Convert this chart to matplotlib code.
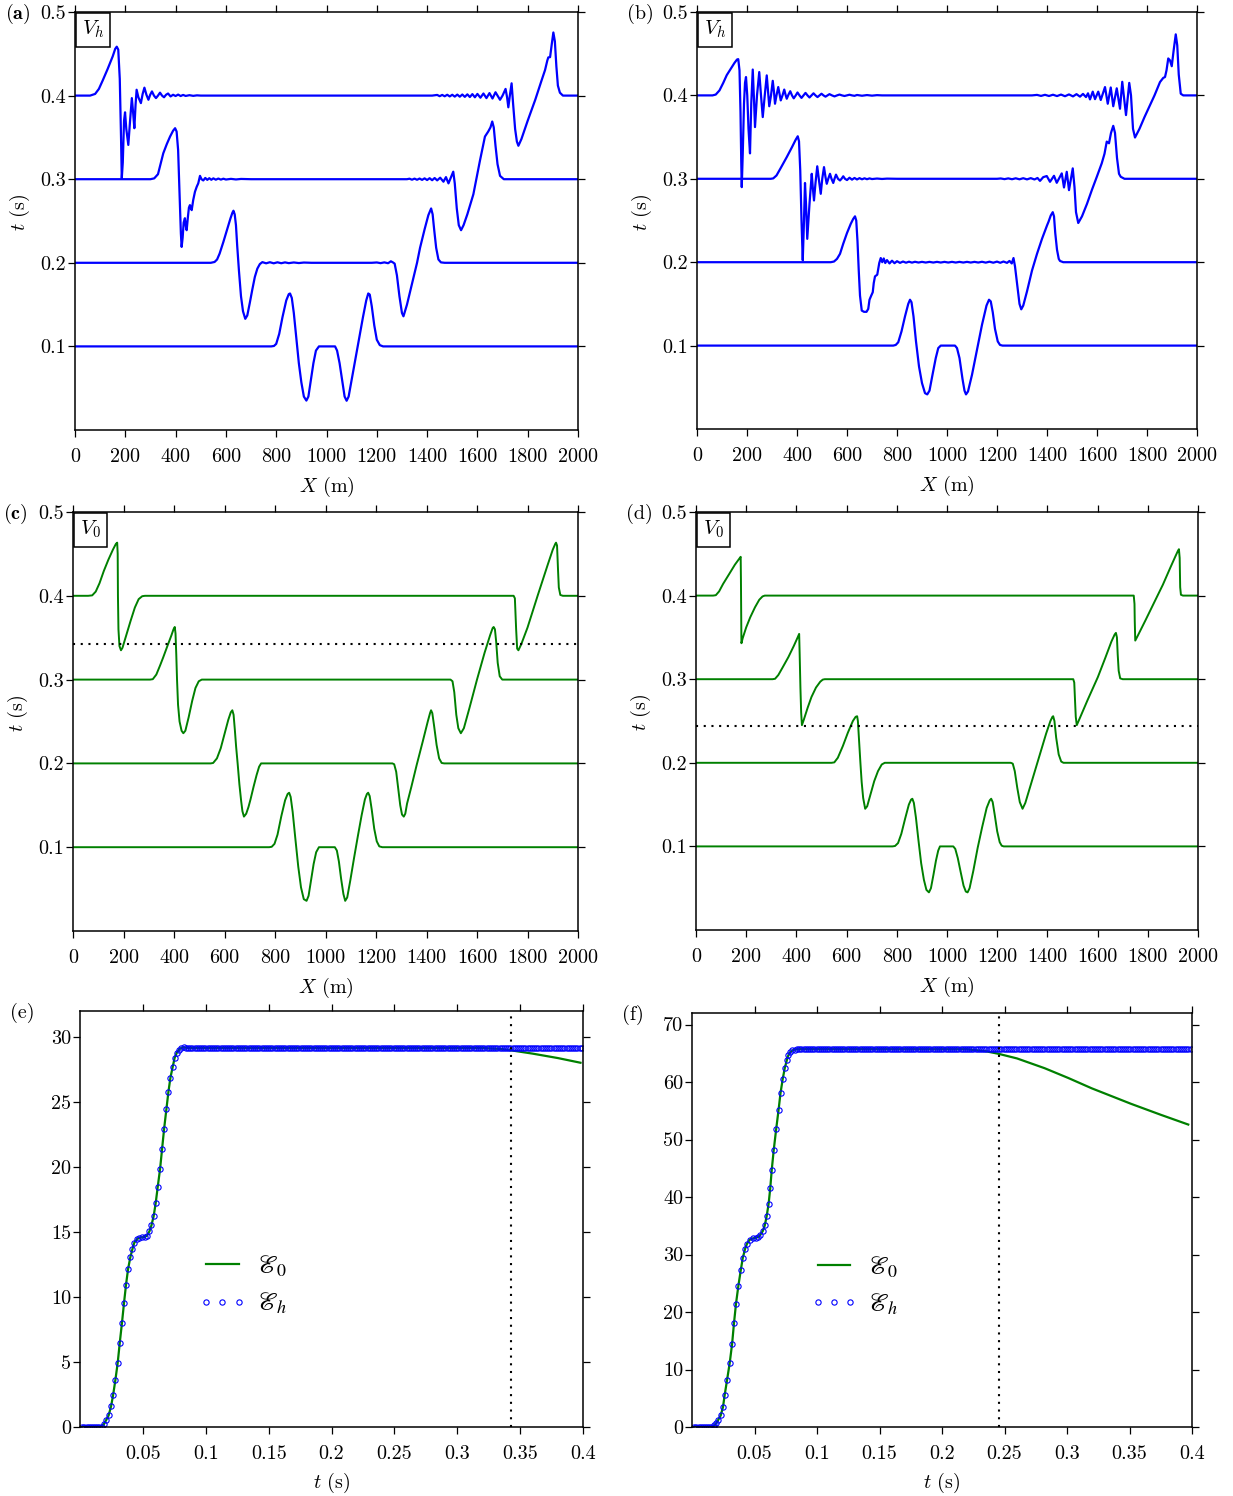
import numpy as np
import matplotlib
matplotlib.use('Agg')
import matplotlib.pyplot as plt
from matplotlib.font_manager import FontProperties

plt.rcParams['font.family'] = 'cmr10'
plt.rcParams['mathtext.fontset'] = 'cm'
plt.rcParams['axes.formatter.use_mathtext'] = True
plt.rcParams['font.size'] = 14.5

W, H = 1233, 1496
BLUE = '#0000ff'
GREEN = '#008000'

# ---- wave snapshots, (X [m], shifted t [s]) ----
# panel (a), V_h
a_04 = [(0, 0.4), (60, 0.4), (80, 0.402), (95, 0.408), (110, 0.418), (130, 0.432), (150, 0.447),
        (160, 0.456), (166, 0.4585), (172, 0.455), (178, 0.42), (183, 0.35), (186, 0.301), (190, 0.32),
        (195, 0.37), (199, 0.38), (204, 0.36), (212, 0.341), (219, 0.37), (226, 0.397), (231, 0.38),
        (236, 0.361), (241, 0.39), (245, 0.407), (252, 0.398), (262, 0.391), (269, 0.402), (276, 0.4095),
        (284, 0.401), (292, 0.395), (299, 0.401), (306, 0.405), (314, 0.4), (322, 0.397), (330, 0.4),
        (338, 0.4035), (346, 0.4), (354, 0.398), (362, 0.401), (370, 0.4025), (380, 0.399), (390, 0.401),
        (400, 0.3995), (410, 0.4012), (420, 0.3995), (430, 0.4008), (440, 0.3996), (455, 0.4005),
        (470, 0.3997), (485, 0.4003), (500, 0.4), (1420, 0.4), (1440, 0.4008), (1450, 0.3993),
        (1460, 0.4008), (1470, 0.3992), (1480, 0.401), (1490, 0.399), (1500, 0.401), (1510, 0.3988),
        (1520, 0.4012), (1530, 0.3987), (1540, 0.4013), (1550, 0.3985), (1560, 0.4015), (1570, 0.3983),
        (1580, 0.4018), (1590, 0.398), (1600, 0.402), (1612, 0.3975), (1624, 0.4025), (1636, 0.397),
        (1648, 0.403), (1660, 0.3965), (1672, 0.404), (1690, 0.395), (1700, 0.4), (1712, 0.408),
        (1718, 0.398), (1723, 0.386), (1729, 0.4), (1736, 0.4147), (1742, 0.39), (1750, 0.36),
        (1757, 0.345), (1763, 0.34), (1775, 0.348), (1800, 0.37), (1830, 0.395), (1855, 0.418),
        (1869, 0.4306), (1878, 0.442), (1882, 0.4457), (1889, 0.446), (1895, 0.46), (1902, 0.4755),
        (1908, 0.465), (1914, 0.435), (1920, 0.412), (1928, 0.4035), (1940, 0.4), (2000, 0.4)]
a_03 = [(0, 0.3), (300, 0.3), (315, 0.301), (330, 0.306), (351, 0.331), (365, 0.342), (378, 0.351),
        (390, 0.358), (398, 0.361), (404, 0.357), (410, 0.335), (416, 0.28), (421, 0.235), (424, 0.219),
        (428, 0.23), (432, 0.248), (437, 0.2533), (441, 0.243), (444, 0.239), (449, 0.255), (453, 0.266),
        (457, 0.269), (461, 0.265), (464, 0.263), (470, 0.275), (477, 0.285), (484, 0.291), (490, 0.295),
        (497, 0.304), (503, 0.3), (510, 0.2985), (518, 0.3015), (526, 0.2992), (534, 0.3012),
        (542, 0.2993), (550, 0.301), (560, 0.2994), (570, 0.3008), (580, 0.2995), (590, 0.3006),
        (600, 0.2996), (620, 0.3004), (640, 0.2997), (660, 0.3003), (700, 0.3), (1320, 0.3),
        (1330, 0.3006), (1340, 0.2994), (1350, 0.3007), (1360, 0.2993), (1370, 0.3008), (1380, 0.2992),
        (1390, 0.301), (1400, 0.299), (1410, 0.3012), (1420, 0.2988), (1430, 0.3014), (1440, 0.2986),
        (1452, 0.3018), (1465, 0.297), (1475, 0.3025), (1485, 0.295), (1504, 0.309), (1510, 0.295),
        (1518, 0.265), (1526, 0.245), (1535, 0.239), (1545, 0.245), (1560, 0.258), (1584, 0.282),
        (1610, 0.322), (1630, 0.351), (1643, 0.357), (1652, 0.362), (1659, 0.369), (1665, 0.362),
        (1672, 0.34), (1680, 0.318), (1690, 0.304), (1705, 0.3), (2000, 0.3)]
a_02 = [(0, 0.2), (540, 0.2), (555, 0.201), (565, 0.204), (575, 0.211), (590, 0.225), (605, 0.24),
        (618, 0.253), (626, 0.26), (630, 0.2623), (635, 0.258), (640, 0.245), (645, 0.22), (652, 0.19),
        (660, 0.16), (668, 0.142), (677, 0.133), (685, 0.137), (695, 0.152), (705, 0.168), (715, 0.183),
        (725, 0.193), (735, 0.1985), (745, 0.2008), (760, 0.1994), (775, 0.2007), (790, 0.1994),
        (805, 0.2006), (820, 0.1995), (835, 0.2005), (850, 0.1996), (870, 0.2004), (890, 0.1997),
        (910, 0.2003), (940, 0.2), (1180, 0.2), (1200, 0.2004), (1215, 0.1996), (1230, 0.2005),
        (1245, 0.1995), (1256, 0.2018), (1264, 0.2005), (1271, 0.199), (1280, 0.185), (1290, 0.16),
        (1300, 0.14), (1306, 0.136), (1320, 0.15), (1340, 0.175), (1360, 0.2), (1372, 0.218),
        (1390, 0.24), (1405, 0.257), (1416, 0.265), (1422, 0.258), (1428, 0.24), (1436, 0.218),
        (1445, 0.204), (1455, 0.2005), (1470, 0.2), (2000, 0.2)]
a_01 = [(0, 0.1), (780, 0.1), (791, 0.1005), (800, 0.103), (812, 0.115), (825, 0.135), (840, 0.155),
        (850, 0.1625), (855, 0.1633), (862, 0.158), (870, 0.14), (880, 0.11), (890, 0.08), (900, 0.057),
        (910, 0.04), (920, 0.0352), (928, 0.04), (938, 0.06), (948, 0.08), (958, 0.095), (970, 0.1),
        (1034, 0.1), (1042, 0.095), (1052, 0.08), (1062, 0.06), (1072, 0.04), (1080, 0.035),
        (1088, 0.04), (1100, 0.06), (1115, 0.085), (1130, 0.11), (1145, 0.135), (1158, 0.155),
        (1166, 0.1633), (1172, 0.162), (1180, 0.148), (1190, 0.125), (1200, 0.108), (1212, 0.1015),
        (1225, 0.1), (2000, 0.1)]

# panel (b), V_h
b_04 = [(0, 0.4), (62, 0.4), (75, 0.401), (90, 0.406), (105, 0.415), (119, 0.4243), (135, 0.432),
        (150, 0.439), (160, 0.443), (165, 0.4435), (170, 0.43), (174, 0.38), (177, 0.32), (179, 0.29),
        (183, 0.33), (188, 0.39), (192, 0.415), (196, 0.422), (201, 0.4), (206, 0.36), (212, 0.3305),
        (217, 0.39), (223, 0.431), (228, 0.395), (232, 0.362), (240, 0.4), (249, 0.428), (256, 0.4),
        (263, 0.374), (271, 0.4), (279, 0.424), (284, 0.405), (289, 0.387), (296, 0.4), (303, 0.4175),
        (308, 0.404), (312, 0.39), (318, 0.4), (325, 0.41), (330, 0.402), (335, 0.394), (342, 0.4),
        (349, 0.407), (354, 0.401), (359, 0.396), (366, 0.401), (373, 0.405), (380, 0.4), (387, 0.3965),
        (395, 0.4), (402, 0.4035), (410, 0.4), (418, 0.397), (426, 0.4), (434, 0.403), (442, 0.4),
        (450, 0.3975), (458, 0.4), (466, 0.4025), (474, 0.4), (482, 0.398), (490, 0.4), (498, 0.402),
        (506, 0.4), (514, 0.3985), (522, 0.4), (530, 0.4015), (540, 0.4), (550, 0.3988), (560, 0.4),
        (570, 0.401), (580, 0.4), (590, 0.3993), (600, 0.4), (610, 0.4008), (620, 0.4), (630, 0.3995),
        (640, 0.4005), (660, 0.3996), (680, 0.4004), (700, 0.3997), (720, 0.4003), (740, 0.4),
        (1340, 0.4), (1360, 0.4006), (1376, 0.3994), (1392, 0.4007), (1408, 0.3993), (1424, 0.4008),
        (1440, 0.3992), (1456, 0.401), (1472, 0.399), (1488, 0.4012), (1504, 0.3988), (1518, 0.4015),
        (1532, 0.3985), (1544, 0.4018), (1556, 0.398), (1564, 0.4025), (1572, 0.3952), (1583, 0.4045),
        (1592, 0.3955), (1605, 0.4045), (1615, 0.3945), (1632, 0.410), (1643, 0.390), (1655, 0.4095),
        (1665, 0.387), (1679, 0.4085), (1692, 0.384), (1701, 0.4163), (1716, 0.3764), (1729, 0.415),
        (1736, 0.4), (1744, 0.36), (1752, 0.3495), (1770, 0.36), (1790, 0.374), (1810, 0.387),
        (1830, 0.4), (1852, 0.416), (1865, 0.421), (1872, 0.422), (1878, 0.43), (1885, 0.4443),
        (1892, 0.442), (1899, 0.435), (1907, 0.455), (1915, 0.4732), (1921, 0.46), (1927, 0.425),
        (1935, 0.402), (1945, 0.4), (2000, 0.4)]
b_03 = [(0, 0.3), (295, 0.3), (305, 0.3005), (318, 0.304), (335, 0.313), (359, 0.326), (380, 0.338),
        (395, 0.347), (403, 0.351), (408, 0.345), (413, 0.31), (418, 0.25), (423, 0.2023), (427, 0.24),
        (432, 0.295), (436, 0.27), (441, 0.228), (450, 0.27), (459, 0.306), (463, 0.29), (468, 0.274),
        (474, 0.295), (481, 0.315), (488, 0.298), (495, 0.282), (501, 0.3), (508, 0.314), (514, 0.302),
        (519, 0.294), (525, 0.3), (532, 0.306), (538, 0.3), (545, 0.295), (550, 0.3), (556, 0.305),
        (564, 0.3), (572, 0.298), (578, 0.3), (585, 0.303), (592, 0.3), (600, 0.2985), (610, 0.3013),
        (620, 0.299), (630, 0.301), (640, 0.2992), (650, 0.3008), (660, 0.2994), (670, 0.3006),
        (680, 0.2995), (690, 0.3005), (700, 0.2997), (720, 0.3003), (740, 0.2998), (760, 0.3002),
        (800, 0.3), (1200, 0.3), (1215, 0.3004), (1230, 0.2996), (1245, 0.3005), (1260, 0.2995),
        (1275, 0.3006), (1290, 0.2994), (1305, 0.3007), (1320, 0.2993), (1335, 0.3008), (1350, 0.2992),
        (1362, 0.301), (1372, 0.2975), (1385, 0.302), (1399, 0.3033), (1412, 0.2964), (1428, 0.3036),
        (1439, 0.2952), (1459, 0.3065), (1468, 0.2896), (1479, 0.3084), (1488, 0.2864), (1503, 0.3125),
        (1510, 0.29), (1516, 0.26), (1525, 0.247), (1540, 0.255), (1560, 0.27), (1580, 0.287),
        (1600, 0.303), (1619, 0.3186), (1630, 0.33), (1639, 0.3446), (1648, 0.3426), (1656, 0.355),
        (1665, 0.3635), (1672, 0.355), (1680, 0.325), (1688, 0.306), (1695, 0.3024), (1710, 0.3),
        (2000, 0.3)]
b_02 = [(0, 0.2), (535, 0.2), (548, 0.2008), (560, 0.204), (572, 0.21), (585, 0.2222), (600, 0.235),
        (615, 0.246), (625, 0.252), (632, 0.255), (637, 0.25), (642, 0.225), (647, 0.19), (652, 0.16),
        (659, 0.142), (668, 0.1405), (678, 0.1405), (685, 0.144), (690, 0.155), (697, 0.16), (703, 0.164),
        (707, 0.175), (712, 0.183), (721, 0.185), (725, 0.192), (729, 0.199), (735, 0.205), (741, 0.2),
        (747, 0.2045), (753, 0.199), (760, 0.2025), (770, 0.1985), (780, 0.2018), (790, 0.1988),
        (800, 0.2012), (812, 0.1992), (824, 0.2008), (836, 0.1994), (848, 0.2006), (860, 0.1995),
        (872, 0.2005), (886, 0.1996), (900, 0.2004), (915, 0.1996), (930, 0.2004), (945, 0.1996),
        (960, 0.2004), (975, 0.1996), (990, 0.2004), (1005, 0.1996), (1020, 0.2004), (1035, 0.1996),
        (1050, 0.2004), (1065, 0.1996), (1080, 0.2004), (1095, 0.1996), (1110, 0.2004), (1125, 0.1996),
        (1140, 0.2005), (1155, 0.1995), (1170, 0.2006), (1185, 0.1994), (1200, 0.2007), (1213, 0.1993),
        (1226, 0.2008), (1240, 0.1992), (1250, 0.2015), (1259, 0.1985), (1266, 0.205), (1272, 0.195),
        (1280, 0.175), (1290, 0.15), (1297, 0.1435), (1305, 0.148), (1320, 0.165), (1340, 0.19),
        (1360, 0.21), (1380, 0.228), (1400, 0.244), (1406, 0.2484), (1415, 0.256), (1423, 0.26),
        (1428, 0.255), (1433, 0.235), (1440, 0.215), (1447, 0.204), (1452, 0.2015), (1465, 0.2),
        (2000, 0.2)]
b_01 = [(0, 0.1), (785, 0.1), (795, 0.1008), (805, 0.104), (818, 0.117), (832, 0.135), (845, 0.15),
        (852, 0.155), (858, 0.152), (866, 0.135), (876, 0.105), (888, 0.075), (900, 0.055), (912, 0.043),
        (921, 0.0415), (930, 0.046), (942, 0.065), (955, 0.085), (965, 0.097), (975, 0.1), (1032, 0.1),
        (1040, 0.097), (1050, 0.085), (1062, 0.06), (1070, 0.046), (1076, 0.0415), (1084, 0.045),
        (1100, 0.065), (1120, 0.095), (1140, 0.125), (1158, 0.148), (1168, 0.155), (1175, 0.153),
        (1183, 0.14), (1192, 0.12), (1203, 0.105), (1212, 0.1008), (1222, 0.1), (2000, 0.1)]

# panel (c), V_0
c_04 = [(0, 0.4), (60, 0.4), (76, 0.4005), (90, 0.405), (105, 0.415), (122, 0.4296), (140, 0.443),
        (158, 0.455), (170, 0.462), (175, 0.4634), (177, 0.45), (178, 0.4), (180, 0.36), (184, 0.34),
        (190, 0.335), (196, 0.338), (210, 0.352), (228, 0.37), (245, 0.386), (260, 0.396), (274, 0.3995),
        (285, 0.4), (1745, 0.4), (1750, 0.397), (1755, 0.36), (1759, 0.337), (1764, 0.335), (1775, 0.342),
        (1800, 0.362), (1840, 0.40), (1880, 0.437), (1900, 0.455), (1910, 0.462), (1913, 0.4634),
        (1917, 0.46), (1921, 0.43), (1924, 0.41), (1930, 0.401), (1940, 0.4), (2000, 0.4)]
c_03 = [(0, 0.3), (305, 0.3), (316, 0.3005), (330, 0.306), (345, 0.317), (357, 0.3263), (375, 0.341),
        (390, 0.353), (398, 0.36), (403, 0.3628), (406, 0.355), (409, 0.33), (412, 0.3), (416, 0.27),
        (422, 0.25), (430, 0.239), (437, 0.236), (445, 0.239), (458, 0.255), (472, 0.2746), (485, 0.29),
        (498, 0.298), (510, 0.3), (1495, 0.3), (1503, 0.298), (1510, 0.285), (1518, 0.258), (1526, 0.242),
        (1536, 0.236), (1548, 0.242), (1570, 0.266), (1600, 0.3), (1630, 0.332), (1652, 0.353),
        (1662, 0.3615), (1666, 0.3628), (1671, 0.36), (1676, 0.345), (1682, 0.32), (1690, 0.304),
        (1700, 0.3), (2000, 0.3)]
c_02 = [(0, 0.2), (545, 0.2), (555, 0.2005), (570, 0.206), (585, 0.218), (600, 0.235), (615, 0.252),
        (625, 0.261), (631, 0.2634), (636, 0.258), (641, 0.24), (646, 0.22), (652, 0.2), (659, 0.175),
        (666, 0.155), (671, 0.143), (677, 0.1365), (686, 0.14), (695, 0.148), (703, 0.157), (715, 0.172),
        (727, 0.186), (737, 0.196), (745, 0.2), (1265, 0.2), (1272, 0.199), (1280, 0.19), (1288, 0.17),
        (1296, 0.15), (1303, 0.139), (1310, 0.1365), (1316, 0.14), (1323, 0.152), (1340, 0.172),
        (1361, 0.198), (1385, 0.226), (1405, 0.25), (1414, 0.26), (1418, 0.2634), (1423, 0.26),
        (1430, 0.245), (1440, 0.222), (1450, 0.206), (1460, 0.2005), (1470, 0.2), (2000, 0.2)]
c_01 = [(0, 0.1), (777, 0.1), (787, 0.1005), (798, 0.104), (810, 0.115), (825, 0.137), (840, 0.156),
        (850, 0.1635), (856, 0.165), (862, 0.16), (870, 0.142), (880, 0.112), (892, 0.077), (903, 0.052),
        (914, 0.038), (925, 0.036), (933, 0.042), (943, 0.061), (953, 0.08), (963, 0.094), (974, 0.1),
        (1037, 0.1), (1045, 0.096), (1053, 0.083), (1062, 0.062), (1071, 0.044), (1078, 0.036),
        (1086, 0.04), (1098, 0.06), (1113, 0.087), (1128, 0.113), (1143, 0.138), (1156, 0.157),
        (1164, 0.1635), (1169, 0.165), (1175, 0.161), (1183, 0.145), (1193, 0.122), (1203, 0.107),
        (1213, 0.101), (1225, 0.1), (2000, 0.1)]

# panel (d), V_0
d_04 = [(0, 0.4), (68, 0.4), (79, 0.4005), (92, 0.405), (108, 0.414), (132, 0.4257), (155, 0.437),
        (172, 0.444), (178, 0.4464), (179, 0.42), (180, 0.38), (181, 0.343), (186, 0.349), (200, 0.362),
        (216, 0.374), (235, 0.386), (252, 0.395), (265, 0.399), (274, 0.4), (1744, 0.4), (1747, 0.39),
        (1748, 0.37), (1750, 0.3462), (1760, 0.352), (1790, 0.37), (1829, 0.394), (1860, 0.413),
        (1890, 0.4336), (1910, 0.447), (1920, 0.4535), (1924, 0.4555), (1927, 0.445), (1929, 0.41),
        (1932, 0.401), (1940, 0.4), (2000, 0.4)]
d_03 = [(0, 0.3), (305, 0.3), (315, 0.3005), (328, 0.305), (345, 0.314), (368, 0.3264), (390, 0.34),
        (405, 0.35), (411, 0.3542), (413, 0.33), (416, 0.29), (419, 0.26), (422, 0.245), (430, 0.252),
        (445, 0.266), (460, 0.2787), (478, 0.29), (495, 0.297), (505, 0.2995), (513, 0.3), (1503, 0.3),
        (1507, 0.296), (1510, 0.275), (1513, 0.255), (1517, 0.245), (1530, 0.254), (1560, 0.275),
        (1601, 0.3025), (1630, 0.325), (1655, 0.345), (1668, 0.3535), (1673, 0.3554), (1677, 0.35),
        (1680, 0.33), (1684, 0.31), (1690, 0.301), (1700, 0.3), (2000, 0.3)]
d_02 = [(0, 0.2), (540, 0.2), (551, 0.2005), (565, 0.206), (585, 0.22), (605, 0.236), (625, 0.25),
        (636, 0.255), (642, 0.2557), (645, 0.25), (650, 0.225), (655, 0.2), (660, 0.177), (666, 0.158),
        (674, 0.145), (682, 0.148), (695, 0.162), (710, 0.178), (725, 0.19), (740, 0.198), (752, 0.2),
        (1254, 0.2), (1262, 0.199), (1270, 0.19), (1280, 0.17), (1290, 0.153), (1301, 0.145),
        (1312, 0.152), (1340, 0.18), (1370, 0.21), (1395, 0.235), (1412, 0.25), (1420, 0.255),
        (1423, 0.2557), (1428, 0.25), (1435, 0.23), (1445, 0.21), (1455, 0.2015), (1464, 0.2), (2000, 0.2)]
d_01 = [(0, 0.1), (783, 0.1), (793, 0.1005), (805, 0.104), (818, 0.115), (833, 0.133), (848, 0.15),
        (857, 0.156), (862, 0.157), (868, 0.152), (876, 0.135), (886, 0.108), (897, 0.08), (908, 0.06),
        (918, 0.048), (928, 0.045), (936, 0.05), (946, 0.066), (956, 0.083), (965, 0.095), (972, 0.1),
        (1025, 0.1), (1033, 0.097), (1043, 0.086), (1054, 0.07), (1066, 0.053), (1075, 0.046),
        (1082, 0.045), (1090, 0.05), (1105, 0.071), (1122, 0.098), (1140, 0.123), (1158, 0.146),
        (1170, 0.155), (1176, 0.157), (1182, 0.153), (1190, 0.138), (1200, 0.118), (1210, 0.105),
        (1218, 0.1008), (1226, 0.1), (2000, 0.1)]

# time of the dotted lines (s)
c_dotted = 0.3425
d_dotted = 0.2441

# ---- energies ----
# sampling step of the E_h markers
dt_h = 0.00172
e_head_t = [0.0017, 0.0034, 0.0052, 0.0069, 0.0086, 0.0103, 0.0120, 0.0138, 0.0155, 0.0172]
e_rise_t = [0.0189, 0.0207, 0.0228, 0.0247, 0.0263, 0.0281, 0.0300, 0.0316, 0.0334, 0.0350, 0.0366,
            0.0382, 0.0400, 0.0417, 0.0432, 0.0454, 0.0472, 0.0494, 0.0515, 0.0533, 0.0552, 0.0568,
            0.0586, 0.0602, 0.0618, 0.0637, 0.0653, 0.0669, 0.0687, 0.0703, 0.0719, 0.0737, 0.0753,
            0.0769, 0.0788, 0.0804, 0.0825]
e_rise_E = [0.2, 0.51, 0.9, 1.59, 2.44, 3.59, 4.95, 6.46, 8.03, 9.54, 10.95, 12.13, 13.05, 13.69, 14.18,
            14.46, 14.54, 14.59, 14.62, 14.72, 15.05, 15.51, 16.23, 17.23, 18.46, 19.87, 21.41, 22.95,
            24.44, 25.77, 26.87, 27.69, 28.41, 28.77, 29.03, 29.15, 29.2]
e_plateau = 29.15
e_E0_tail_t = [0.32, 0.335, 0.343, 0.36, 0.38, 0.398]
e_E0_tail_E = [29.15, 29.08, 28.97, 28.72, 28.38, 28.02]
e_dotted = 0.3426

f_rise_t = [0.0179, 0.0195, 0.0211, 0.0230, 0.0248, 0.0261, 0.0280, 0.0302, 0.0321, 0.0336, 0.0352,
            0.0371, 0.0390, 0.0406, 0.0425, 0.0440, 0.0462, 0.0484, 0.0509, 0.0531, 0.0547, 0.0566,
            0.0582, 0.0597, 0.0613, 0.0626, 0.0638, 0.0654, 0.0673, 0.0692, 0.0708, 0.0726, 0.0742,
            0.0758, 0.0770, 0.0786, 0.0802, 0.0824]
f_rise_E = [0.29, 0.70, 1.28, 2.03, 3.48, 5.5, 8.11, 11.18, 14.49, 18.08, 21.44, 24.57, 27.24, 29.38,
            31.0, 31.87, 32.56, 32.79, 32.91, 33.03, 33.43, 34.07, 35.05, 36.62, 38.82, 41.54, 44.73,
            48.2, 51.74, 55.05, 58.06, 60.55, 62.4, 63.74, 64.61, 65.19, 65.48, 65.65]
f_plateau = 65.71
f_E0_tail_t = [0.22, 0.235, 0.2453, 0.26, 0.2821, 0.301, 0.3198, 0.3513, 0.375, 0.397]
f_E0_tail_E = [65.7, 65.35, 64.9, 64.1, 62.4, 60.7, 58.9, 56.2, 54.3, 52.6]
f_dotted = 0.2453

wave_xticks = list(range(0, 2001, 200))
wave_yticks = [0.1, 0.2, 0.3, 0.4, 0.5]
wave_ylabels = ['0.1', '0.2', '0.3', '0.4', '0.5']
t_ticks = [0.05, 0.1, 0.15, 0.2, 0.25, 0.3, 0.35, 0.4]
t_labels = ['0.05', '0.1', '0.15', '0.2', '0.25', '0.3', '0.35', '0.4']
dotted = (0, (1, 2.7))


def new_axes(fig, left, right, top, bottom):
    return fig.add_axes([left / W, 1 - bottom / H, (right - left) / W, (bottom - top) / H])


def style(ax):
    ax.tick_params(direction='out', length=5, width=0.9, top=True, right=True,
                   labeltop=False, labelright=False)
    ax.tick_params(axis='x', pad=8)
    ax.tick_params(axis='y', pad=1.5)
    for s in ax.spines.values():
        s.set_linewidth(1.1)


def wave_panel(ax, curves, color, lw, tag, bold, vlabel, dotted_t=None):
    for c in curves:
        arr = np.array(c)
        ax.plot(arr[:, 0], arr[:, 1], color=color, lw=lw, solid_joinstyle='round')
    if dotted_t is not None:
        ax.axhline(dotted_t, color='black', lw=1.5, ls=dotted)
    ax.set_xlim(0, 2000)
    ax.set_ylim(0, 0.5)
    ax.set_xticks(wave_xticks)
    ax.set_xticklabels([str(v) for v in wave_xticks])
    ax.set_yticks(wave_yticks)
    ax.set_yticklabels(wave_ylabels)
    style(ax)
    ax.set_xlabel(r'$X$ (m)')
    ax.xaxis.set_label_coords(0.5, -0.108)
    ax.set_ylabel(r'$t$ (s)')
    ax.yaxis.set_label_coords(-0.085, 0.52)
    ax.annotate(vlabel, xy=(0, 1), xycoords='axes fraction', xytext=(5, -5),
                textcoords='offset points', ha='left', va='top', fontsize=15,
                bbox=dict(boxstyle='square,pad=0.3', fc='white', ec='black', lw=1.1))
    bb = ax.get_position()
    txt = r'$\mathbf{' + tag + '}$' if bold else tag
    ax.figure.text(bb.x0 - 70 / W, bb.y1 - 2 / H, txt, ha='left', va='center', fontsize=14.5)


def energy_panel(ax, rise_t, rise_E, plateau, tail_t, tail_E, dotted_t, ymax, yticks, tag):
    # green line: E_0
    t0 = [0.0, 0.016] + rise_t + [0.086] + tail_t
    E0 = [0.0, 0.02] + rise_E + [plateau] + tail_E
    ax.plot(t0, E0, color=GREEN, lw=1.6, label=r'$\mathscr{E}_0$')
    # blue circles: E_h
    t_tail = np.arange(rise_t[-1] + dt_h, 0.4001, dt_h)
    th = e_head_t + rise_t + list(t_tail)
    Eh = [0.0] * len(e_head_t) + rise_E + [plateau] * len(t_tail)
    ax.plot(th, Eh, ls='none', marker='o', ms=3.8, mfc='none', mec=BLUE, mew=0.8,
            label=r'$\mathscr{E}_h$')
    ax.axvline(dotted_t, color='black', lw=1.5, ls=dotted)
    ax.set_xlim(0, 0.4)
    ax.set_ylim(0, ymax)
    ax.set_xticks(t_ticks)
    ax.set_xticklabels(t_labels)
    ax.set_yticks(yticks)
    ax.set_yticklabels([str(v) for v in yticks])
    style(ax)
    ax.set_xlabel(r'$t$ (s)')
    ax.xaxis.set_label_coords(0.5, -0.105)
    ax.legend(loc='center left', bbox_to_anchor=(0.236, 0.342), frameon=False, numpoints=3,
              handlelength=1.85, handletextpad=0.4, labelspacing=0.45, borderpad=0,
              borderaxespad=0, prop=FontProperties(family='cmr10', size=18.5, math_fontfamily='stix'))
    bb = ax.get_position()
    ax.figure.text(bb.x0 - 70 / W, bb.y1 - 2 / H, tag, ha='left', va='center', fontsize=14.5)


fig = plt.figure(figsize=(W / 100, H / 100), dpi=100)

ax_a = new_axes(fig, 75, 578, 12, 430)
wave_panel(ax_a, [a_04, a_03, a_02, a_01], BLUE, 1.6, '(a)', True, r'$V_h$')
ax_b = new_axes(fig, 697, 1197, 12, 429)
wave_panel(ax_b, [b_04, b_03, b_02, b_01], BLUE, 1.6, '(b)', False, r'$V_h$')
ax_c = new_axes(fig, 73, 578, 512, 931)
wave_panel(ax_c, [c_04, c_03, c_02, c_01], GREEN, 1.4, '(c)', True, r'$V_0$', c_dotted)
ax_d = new_axes(fig, 696, 1198, 512, 930)
wave_panel(ax_d, [d_04, d_03, d_02, d_01], GREEN, 1.4, '(d)', False, r'$V_0$', d_dotted)

ax_e = new_axes(fig, 80, 583, 1011, 1427)
energy_panel(ax_e, e_rise_t, e_rise_E, e_plateau, e_E0_tail_t, e_E0_tail_E, e_dotted, 32,
             [0, 5, 10, 15, 20, 25, 30], '(e)')
ax_f = new_axes(fig, 692, 1192, 1013, 1427)
energy_panel(ax_f, f_rise_t, f_rise_E, f_plateau, f_E0_tail_t, f_E0_tail_E, f_dotted, 72,
             [0, 10, 20, 30, 40, 50, 60, 70], '(f)')

fig.savefig('out.png', dpi=100)
